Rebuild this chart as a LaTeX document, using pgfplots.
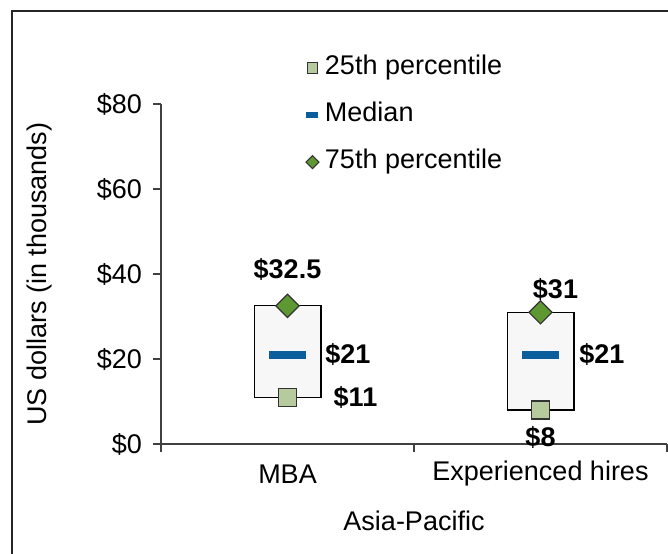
\documentclass[border=0pt]{standalone}
\usepackage{fontspec}
\setmainfont{Liberation Sans}
\usepackage{pgfplots}
\pgfplotsset{compat=1.18}
\definecolor{boxfill}{HTML}{F7F7F7}
\definecolor{qone}{HTML}{B6CA9D}
\definecolor{qthree}{HTML}{5E9833}
\definecolor{med}{HTML}{0C5D9B}
\definecolor{axisgray}{HTML}{404040}
\newcommand{\tfont}{\fontsize{13.5}{16}\selectfont}
\newcommand{\bfont}{\fontsize{13.5}{16}\selectfont\bfseries}
\pgfplotsset{marklegend/.style={legend image code/.code={\draw[##1] plot coordinates {(0pt,0pt)};}}}
\begin{document}
\begin{tikzpicture}[x=1pt,y=1pt]
\useasboundingbox (0,0) rectangle (334,-276.5);
\draw[line width=1pt, black!85] (6,-280) -- (6,-5.5) -- (340,-5.5);
\begin{axis}[
 at={(80.5pt,-222pt)}, anchor=south west,
 scale only axis, width=253pt, height=170pt,
 xmin=0.5, xmax=2.5, ymin=0, ymax=80,
 axis x line*=bottom, axis y line*=left,
 axis line style={axisgray, line width=0.6pt, -},
 xtick={1,2}, xticklabels={MBA, Experienced hires},
 minor xtick={0.5,1.5,2.5},
 major x tick style={draw=none},
 minor tick length=4pt,
 major tick length=4pt,
 ytick={0,20,40,60,80},
 yticklabel={\$\pgfmathprintnumber{\tick}},
 /pgf/number format/assume math mode=true,
 tick align=outside,
 tick style={axisgray, line width=0.6pt},
 ticklabel style={font=\tfont},
 xticklabel style={anchor=center, yshift=-11pt},
 yticklabel style={xshift=-2pt},
 xlabel={Asia-Pacific},
 ylabel={US dollars (in thousands)},
 every axis x label/.style={at={(axis description cs:0.5,0)}, yshift=-38.5pt, anchor=center, font=\tfont},
 every axis y label/.style={at={(axis description cs:0,0.5)}, xshift=-60.5pt, rotate=90, anchor=center, font=\tfont},
 clip=false,
 legend style={at={(axis cs:1.073,91.4)}, anchor=north west, draw=none, fill=none,
   inner sep=0pt, outer sep=0pt, row sep=11pt, column sep=3pt, font=\tfont,
   nodes={inner sep=0pt, text height=9.5pt, text depth=3pt}},
 legend cell align=left,
]
% boxes
\addplot[fill=boxfill, draw=black, line width=0.6pt, forget plot]
  coordinates {(0.868,11) (1.132,11) (1.132,32.5) (0.868,32.5)} --cycle;
\addplot[fill=boxfill, draw=black, line width=0.6pt, forget plot]
  coordinates {(1.868,8) (2.132,8) (2.132,31) (1.868,31)} --cycle;
% legend entries
\addlegendimage{only marks, mark=square*, mark size=2.6pt, mark options={fill=qone, draw=black!80, line width=0.5pt}, marklegend}
\addlegendentry{25th percentile}
\addlegendimage{only marks, mark=-, mark size=3pt, mark options={draw=med, line width=2.6pt}, marklegend}
\addlegendentry{Median}
\addlegendimage{only marks, mark=square*, mark size=2.3pt, mark options={fill=qthree, draw=black!80, line width=0.5pt, rotate=45}, marklegend}
\addlegendentry{75th percentile}
% medians
\addplot[only marks, mark=-, mark size=9.25pt, mark options={draw=med, line width=3.8pt}, forget plot,
  nodes near coords, point meta=explicit symbolic,
  nodes near coords style={anchor=west, inner sep=0pt, xshift=17pt, font=\bfont, text=black}]
  coordinates {(1,21) [\$21]};
\addplot[only marks, mark=-, mark size=9.25pt, mark options={draw=med, line width=3.8pt}, forget plot,
  nodes near coords, point meta=explicit symbolic,
  nodes near coords style={anchor=west, inner sep=0pt, xshift=17.5pt, font=\bfont, text=black}]
  coordinates {(2,21) [\$21]};
% 25th percentile
\addplot[only marks, mark=square*, mark size=4.5pt, mark options={fill=qone, draw=black!80, line width=0.6pt}, forget plot,
  nodes near coords, point meta=explicit symbolic,
  nodes near coords style={anchor=center, inner sep=0pt, xshift=34pt, yshift=0pt, font=\bfont, text=black}]
  coordinates {(1,11) [\$11]};
\addplot[only marks, mark=square*, mark size=4.5pt, mark options={fill=qone, draw=black!80, line width=0.6pt}, forget plot,
  nodes near coords, point meta=explicit symbolic,
  nodes near coords style={anchor=center, inner sep=0pt, xshift=0pt, yshift=-13.5pt, font=\bfont, text=black}]
  coordinates {(2,8) [\$8]};
% 75th percentile
\addplot[only marks, mark=square*, mark size=4.1pt, mark options={fill=qthree, draw=black!80, line width=0.6pt, rotate=45}, forget plot,
  nodes near coords, point meta=explicit symbolic,
  nodes near coords style={anchor=center, inner sep=0pt, xshift=0pt, yshift=18pt, font=\bfont, text=black}]
  coordinates {(1,32.5) [\$32.5]};
\addplot[only marks, mark=square*, mark size=4.1pt, mark options={fill=qthree, draw=black!80, line width=0.6pt, rotate=45}, forget plot,
  nodes near coords, point meta=explicit symbolic,
  nodes near coords style={anchor=center, inner sep=0pt, xshift=7.5pt, yshift=11.5pt, font=\bfont, text=black}]
  coordinates {(2,31) [\$31]};
\end{axis}
\end{tikzpicture}
\end{document}
